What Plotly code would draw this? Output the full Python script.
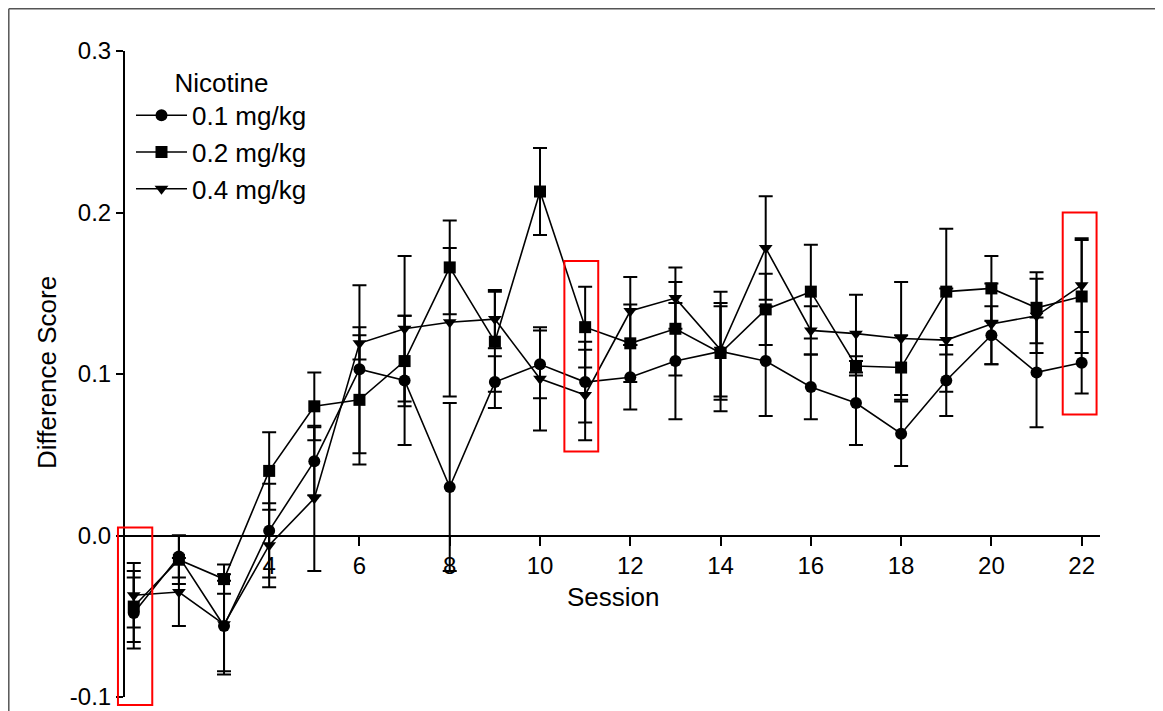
import plotly.graph_objects as go

# ---------------- data ----------------
sessions = list(range(1, 23))

dose_labels = ["0.1 mg/kg", "0.2 mg/kg", "0.4 mg/kg"]

mean_01 = [-0.048, -0.013, -0.056, 0.003, 0.046, 0.103, 0.096, 0.030, 0.095, 0.106, 0.095,
           0.098, 0.108, 0.114, 0.108, 0.092, 0.082, 0.063, 0.096, 0.124, 0.101, 0.107]
sem_01 = [0.022, 0.013, 0.028, 0.029, 0.021, 0.052, 0.040, 0.052, 0.016, 0.021, 0.025,
          0.020, 0.036, 0.037, 0.034, 0.020, 0.026, 0.020, 0.022, 0.018, 0.034, 0.019]

mean_02 = [-0.044, -0.015, -0.027, 0.040, 0.080, 0.084, 0.108, 0.166, 0.120, 0.213, 0.129,
           0.119, 0.128, 0.113, 0.140, 0.151, 0.105, 0.104, 0.151, 0.153, 0.141, 0.148]
sem_02 = [0.022, 0.015, 0.009, 0.024, 0.021, 0.040, 0.028, 0.029, 0.031, 0.027, 0.025,
          0.024, 0.029, 0.029, 0.022, 0.029, 0.006, 0.020, 0.039, 0.020, 0.022, 0.035]

mean_04 = [-0.037, -0.035, -0.055, -0.006, 0.023, 0.119, 0.128, 0.132, 0.134, 0.097, 0.087,
           0.139, 0.147, 0.115, 0.178, 0.127, 0.125, 0.122, 0.121, 0.131, 0.136, 0.155]
sem_04 = [0.020, 0.021, 0.031, 0.026, 0.045, 0.010, 0.045, 0.046, 0.018, 0.032, 0.028,
          0.021, 0.019, 0.029, 0.032, 0.015, 0.024, 0.035, 0.032, 0.025, 0.023, 0.029]

y_tickvals = [-0.1, 0.0, 0.1, 0.2, 0.3]
y_ticktext = ["-0.1", "0.0", "0.1", "0.2", "0.3"]
x_tickvals = [4, 6, 8, 10, 12, 14, 16, 18, 20, 22]

# highlighted sessions (red boxes): (x0, x1, y0, y1) in data units
highlight_boxes = [(0.65, 1.41, -0.105, 0.005),
                   (10.54, 11.29, 0.052, 0.170),
                   (21.58, 22.33, 0.075, 0.200)]

# ---------------- figure ----------------
OFF = 8                       # page body margin
W, H = 1163 - OFF, 711 - OFF
ML, MR, MT, MB = 125 - OFF, 63, 51 - OFF, 14
PW, PH = W - ML - MR, H - MT - MB

X_RANGE = [0.806, 22.406]
Y_RANGE = [-0.1, 0.3]

FONT = "Liberation Sans, Arial, sans-serif"

fig = go.Figure()
series = [(mean_01, sem_01, "circle"), (mean_02, sem_02, "square"), (mean_04, sem_04, "triangle-down")]
for (m, e, sym), name in zip(series, dose_labels):
    fig.add_trace(go.Scatter(
        x=sessions, y=m, name=name, mode="lines+markers",
        line=dict(color="black", width=1.6),
        marker=dict(symbol=sym, size=12, color="black"),
        error_y=dict(type="data", array=e, visible=True, color="black", thickness=2, width=7),
    ))

# screen pixel -> paper
def px_x(p):
    return (p - OFF - ML) / PW

def px_y(p):
    return 1 - (p - OFF - MT) / PH

# data -> paper (so boxes are not clipped by the plot area)
def dx(v):
    return (v - X_RANGE[0]) / (X_RANGE[1] - X_RANGE[0])

def dy(v):
    return (v - Y_RANGE[0]) / (Y_RANGE[1] - Y_RANGE[0])

shapes = []
for x0, x1, y0, y1 in highlight_boxes:
    shapes.append(dict(type="rect", xref="paper", yref="paper", x0=dx(x0), x1=dx(x1), y0=dy(y0), y1=dy(y1),
                       line=dict(color="red", width=2), fillcolor="rgba(0,0,0,0)"))
# outer frame (top and left edges of the cropped figure)
shapes.append(dict(type="line", xref="paper", yref="paper", x0=px_x(8.8), x1=px_x(1170), y0=px_y(8.8), y1=px_y(8.8),
                   line=dict(color="#555555", width=1.5)))
shapes.append(dict(type="line", xref="paper", yref="paper", x0=px_x(8.8), x1=px_x(8.8), y0=px_y(8.8), y1=px_y(720),
                   line=dict(color="#555555", width=1.5)))

fig.update_layout(
    width=W, height=H,
    margin=dict(l=ML, r=MR, t=MT, b=MB, autoexpand=False),
    paper_bgcolor="white", plot_bgcolor="white",
    font=dict(family=FONT, size=23, color="black"),
    showlegend=True,
    legend=dict(
        x=px_x(131), y=px_y(58), xanchor="left", yanchor="top",
        bgcolor="rgba(0,0,0,0)", font=dict(size=26, family=FONT),
        title=dict(text="Nicotine", side="top center", font=dict(size=26, family=FONT)),
        itemwidth=51, tracegroupgap=0,
    ),
    xaxis=dict(
        range=X_RANGE, anchor="free", position=dy(0.0), automargin=False,
        showline=True, linecolor="black", linewidth=2,
        ticks="outside", ticklen=9, tickwidth=2, tickcolor="black",
        tickvals=x_tickvals, showgrid=False, zeroline=False,
        tickfont=dict(size=24, family=FONT),
    ),
    yaxis=dict(
        range=Y_RANGE, automargin=False,
        showline=True, linecolor="black", linewidth=2,
        ticks="outside", ticklen=7, tickwidth=2, tickcolor="black",
        tickvals=y_tickvals, ticktext=y_ticktext, showgrid=False, zeroline=False,
        tickfont=dict(size=24, family=FONT),
    ),
    shapes=shapes,
    annotations=[
        dict(text="Session", xref="paper", yref="paper", x=px_x(613), y=px_y(597),
             showarrow=False, xanchor="center", yanchor="middle", font=dict(size=26, family=FONT)),
        dict(text="Difference Score", xref="paper", yref="paper", x=px_x(47), y=px_y(373),
             showarrow=False, xanchor="center", yanchor="middle", textangle=-90,
             font=dict(size=26, family=FONT)),
    ],
)

fig.write_html("out.html")
